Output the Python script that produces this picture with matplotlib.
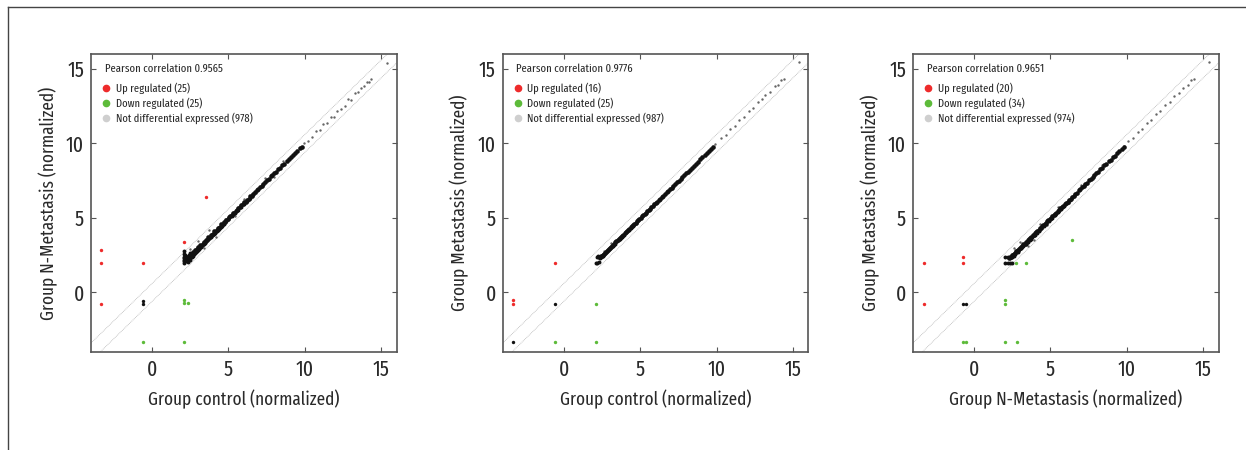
import matplotlib
matplotlib.use("Agg")
import matplotlib.pyplot as plt
from matplotlib.lines import Line2D

plt.rcParams['font.family'] = ['Fira Sans Extra Condensed', 'DejaVu Sans']

# ---------------- data ----------------
x_labels = ["Group control (normalized)", "Group control (normalized)", "Group N-Metastasis (normalized)"]
y_labels = ["Group N-Metastasis (normalized)", "Group Metastasis (normalized)", "Group Metastasis (normalized)"]
pearson = ["0.9565", "0.9776", "0.9651"]
up_counts = [25, 16, 20]
down_counts = [25, 25, 34]
not_counts = [978, 987, 974]
ticks = [0, 5, 10, 15]

# dense core x positions (shared), y per panel
core_x = [2.30, 2.36, 2.42, 2.48, 2.55, 2.62, 2.68, 2.75, 2.82, 2.88,
          2.95, 3.02, 3.08, 3.15, 3.22, 3.30, 3.37, 3.44, 3.52, 3.60,
          3.67, 3.75, 3.83, 3.90, 3.98, 4.06, 4.14, 4.22, 4.30, 4.38,
          4.46, 4.54, 4.62, 4.70, 4.78, 4.86, 4.95, 5.03, 5.12, 5.20,
          5.29, 5.38, 5.47, 5.56, 5.65, 5.74, 5.83, 5.93, 6.02, 6.12,
          6.22, 6.32, 6.42, 6.52, 6.62, 6.73, 6.84, 6.95, 7.06, 7.17,
          7.28, 7.40, 7.52, 7.64, 7.76, 7.88, 8.00, 8.13, 8.26, 8.39,
          8.52, 8.66, 8.80, 8.94, 9.08, 9.22, 9.36, 9.50, 9.65, 9.80]
core_y1 = [2.38, 2.30, 2.45, 2.40, 2.52, 2.58, 2.70, 2.66, 2.85, 2.80,
           2.90, 3.05, 3.00, 3.18, 3.12, 3.26, 3.40, 3.35, 3.50, 3.55,
           3.70, 3.68, 3.85, 3.86, 3.95, 4.10, 4.08, 4.20, 4.33, 4.34,
           4.42, 4.56, 4.58, 4.72, 4.75, 4.88, 4.92, 5.05, 5.10, 5.22,
           5.30, 5.36, 5.48, 5.55, 5.67, 5.72, 5.84, 5.92, 6.04, 6.10,
           6.23, 6.30, 6.44, 6.50, 6.63, 6.72, 6.86, 6.93, 7.08, 7.15,
           7.30, 7.38, 7.53, 7.62, 7.78, 7.86, 8.02, 8.10, 8.27, 8.37,
           8.55, 8.64, 8.82, 8.92, 9.10, 9.20, 9.38, 9.48, 9.66, 9.78]
core_y2 = [2.36, 2.38, 2.42, 2.46, 2.52, 2.60, 2.66, 2.72, 2.80, 2.86,
           2.93, 3.00, 3.06, 3.13, 3.20, 3.28, 3.35, 3.42, 3.50, 3.58,
           3.65, 3.73, 3.81, 3.88, 3.96, 4.04, 4.12, 4.20, 4.28, 4.36,
           4.44, 4.52, 4.60, 4.68, 4.76, 4.84, 4.93, 5.01, 5.10, 5.18,
           5.27, 5.36, 5.45, 5.54, 5.63, 5.72, 5.81, 5.91, 6.00, 6.10,
           6.20, 6.30, 6.40, 6.50, 6.60, 6.71, 6.82, 6.93, 7.04, 7.15,
           7.26, 7.38, 7.50, 7.62, 7.74, 7.86, 7.98, 8.11, 8.24, 8.37,
           8.50, 8.64, 8.78, 8.92, 9.06, 9.20, 9.34, 9.48, 9.63, 9.78]
core_y3 = [2.34, 2.40, 2.38, 2.48, 2.50, 2.60, 2.64, 2.76, 2.78, 2.86,
           2.92, 3.00, 3.08, 3.10, 3.22, 3.26, 3.36, 3.40, 3.52, 3.56,
           3.66, 3.72, 3.84, 3.86, 3.96, 4.04, 4.14, 4.18, 4.30, 4.35,
           4.45, 4.50, 4.62, 4.67, 4.78, 4.83, 4.95, 5.00, 5.12, 5.17,
           5.29, 5.35, 5.47, 5.53, 5.65, 5.71, 5.83, 5.90, 6.02, 6.09,
           6.22, 6.29, 6.42, 6.49, 6.62, 6.70, 6.84, 6.92, 7.06, 7.14,
           7.28, 7.37, 7.52, 7.60, 7.76, 7.85, 8.00, 8.10, 8.26, 8.36,
           8.52, 8.62, 8.80, 8.90, 9.08, 9.18, 9.36, 9.46, 9.65, 9.76]

# extra dark points (low-end smear and band thickness)
extra_x1 = [2.10, 2.10, 2.12, 2.10, 2.10, 2.14, 2.10, 2.10, 2.20, 2.28, 2.35, 2.45,
            2.55, 2.40, 2.65, 2.75, 2.50, 2.85, 2.95, 3.05, 3.15, 3.25, 3.35, 3.45,
            3.55, 3.65, 3.80, 3.95, 4.10, 4.25, 4.40, 4.55, 4.70, 4.85, 5.00, 5.20,
            5.40, 5.60, 5.80, 6.00, 6.20, 6.40, 6.60, 2.60, 2.80, 3.00, 3.20, 3.40,
            3.60, 3.85, 4.05, 4.30, 4.50]
extra_y1 = [2.00, 2.08, 2.18, 2.28, 2.38, 2.48, 2.60, 2.75, 2.12, 2.22, 2.05, 2.20,
            2.35, 2.48, 2.45, 2.58, 2.62, 2.70, 2.80, 2.92, 3.05, 3.15, 3.22, 3.30,
            3.45, 3.58, 3.72, 3.85, 4.00, 4.15, 4.28, 4.48, 4.60, 4.80, 4.92, 5.12,
            5.32, 5.52, 5.75, 5.95, 6.14, 6.36, 6.58, 2.40, 2.62, 2.85, 3.02, 3.28,
            3.50, 3.72, 3.95, 4.20, 4.40]
extra_x2 = [2.10, 2.20, 2.30, 2.15, 2.25, 2.35, 2.45, 2.55, 2.65, 2.75, 2.90, 3.05,
            3.20, 3.35, 3.50, 3.65, 3.80, 3.95, 4.10, 4.25, 4.40, 4.55, 4.70]
extra_y2 = [2.00, 2.00, 2.05, 2.40, 2.42, 2.33, 2.40, 2.47, 2.58, 2.68, 2.82, 2.98,
            3.13, 3.28, 3.43, 3.58, 3.73, 3.88, 4.03, 4.18, 4.33, 4.48, 4.63]
extra_x3 = [2.00, 2.20, 2.35, 2.50, 2.00, 2.20, 2.35, 2.45, 2.55, 2.65, 2.75, 2.90,
            3.05, 3.20, 3.35, 3.50, 3.65, 3.80, 3.95, 4.10, 4.25, 4.40, 4.55, 4.70,
            4.90, 5.10, 5.30, 5.50, 5.70, 5.90, 6.10, 6.30, 2.60, 2.85, 3.10, 3.40,
            3.70, 4.00]
extra_y3 = [2.00, 2.00, 2.00, 2.00, 2.38, 2.38, 2.30, 2.40, 2.48, 2.55, 2.68, 2.80,
            2.95, 3.10, 3.25, 3.40, 3.55, 3.72, 3.86, 4.00, 4.15, 4.32, 4.46, 4.62,
            4.80, 5.02, 5.20, 5.42, 5.60, 5.82, 6.00, 6.22, 2.45, 2.70, 2.98, 3.28,
            3.58, 3.88]

# sparse grey points (upper part of diagonal and loose ones)
sparse_x1 = [2.50, 3.00, 3.40, 3.75, 4.20, 4.80, 5.40, 6.00, 6.80, 7.40, 8.00, 8.60,
             9.95, 10.20, 10.50, 10.75, 11.00, 11.20, 11.45, 11.70, 11.90, 12.10,
             12.35, 12.60, 12.85, 13.05, 13.30, 13.50, 13.70, 13.90, 14.05, 14.20,
             14.35, 15.35]
sparse_y1 = [2.90, 3.45, 3.00, 4.20, 3.75, 4.95, 5.10, 6.30, 6.65, 7.65, 7.75, 8.80,
             10.05, 10.15, 10.40, 10.85, 10.90, 11.30, 11.40, 11.80, 11.75, 12.20,
             12.30, 12.50, 12.95, 12.90, 13.35, 13.45, 13.75, 13.85, 14.10, 14.15,
             14.30, 15.40]
sparse_x2 = [2.60, 3.10, 8.20, 9.90, 10.30, 10.60, 10.90, 11.20, 11.50, 11.80, 12.10,
             12.40, 12.70, 13.00, 13.20, 13.50, 13.80, 14.00, 14.20, 14.40, 15.40]
sparse_y2 = [2.75, 3.30, 8.05, 9.95, 10.35, 10.55, 10.95, 11.15, 11.55, 11.75, 12.15,
             12.35, 12.75, 12.95, 13.25, 13.45, 13.85, 13.95, 14.25, 14.35, 15.45]
sparse_x3 = [2.60, 3.00, 3.50, 3.90, 4.30, 4.80, 5.50, 6.20, 7.00, 7.80, 8.40, 9.80,
             10.10, 10.40, 10.70, 11.00, 11.30, 11.60, 11.90, 12.20, 12.50, 12.80,
             13.10, 13.40, 13.70, 14.00, 14.20, 14.40, 15.40]
sparse_y3 = [2.95, 3.40, 3.10, 3.55, 4.60, 4.55, 5.75, 6.00, 7.20, 7.60, 8.55, 9.85,
             10.15, 10.35, 10.75, 10.95, 11.35, 11.55, 11.95, 12.15, 12.55, 12.75,
             13.15, 13.35, 13.75, 13.95, 14.25, 14.35, 15.45]

# not-differential low outliers (black)
low_x1 = [-0.60, -0.60]
low_y1 = [-0.55, -0.75]
low_x2 = [-0.60, -3.35]
low_y2 = [-0.78, -3.30]
low_x3 = [-0.70, -0.52]
low_y3 = [-0.78, -0.78]

# up regulated (red)
up_x1 = [-3.35, -3.35, -3.35, -0.60, 2.12, 3.50]
up_y1 = [2.85, 2.00, -0.75, 2.00, 3.40, 6.42]
up_x2 = [-3.30, -3.30, -0.60]
up_y2 = [-0.52, -0.78, 2.00]
up_x3 = [-3.25, -3.25, -0.70, -0.70]
up_y3 = [2.00, -0.78, 2.40, 2.00]

# down regulated (green)
down_x1 = [2.12, 2.12, 2.38, -0.60, 2.12]
down_y1 = [-0.54, -0.74, -0.74, -3.30, -3.30]
down_x2 = [2.12, -0.60, 2.12]
down_y2 = [-0.78, -3.30, -3.30]
down_x3 = [-0.70, -0.52, 2.02, 2.83, 2.02, 2.02, 2.74, 3.39, 6.41]
down_y3 = [-3.30, -3.30, -3.30, -3.30, -0.50, -0.78, 2.00, 2.00, 3.54]

panels = [
    dict(core_y=core_y1, ex=extra_x1, ey=extra_y1, sx=sparse_x1, sy=sparse_y1,
         lx=low_x1, ly=low_y1, ux=up_x1, uy=up_y1, dx=down_x1, dy=down_y1),
    dict(core_y=core_y2, ex=extra_x2, ey=extra_y2, sx=sparse_x2, sy=sparse_y2,
         lx=low_x2, ly=low_y2, ux=up_x2, uy=up_y2, dx=down_x2, dy=down_y2),
    dict(core_y=core_y3, ex=extra_x3, ey=extra_y3, sx=sparse_x3, sy=sparse_y3,
         lx=low_x3, ly=low_y3, ux=up_x3, uy=up_y3, dx=down_x3, dy=down_y3),
]

RED = '#ee2b2b'
GREEN = '#5dbb3a'
GREY = '#cfcfcf'
TXT = '#2a2a2a'

W, H = 1246, 450
fig = plt.figure(figsize=(W / 100, H / 100), dpi=100)

# figure frame (top and left border)
fig.add_artist(Line2D([8 / W, 1.0], [1 - 7 / H, 1 - 7 / H], transform=fig.transFigure,
                      color='#444444', lw=1.0))
fig.add_artist(Line2D([8 / W, 8 / W], [0.0, 1 - 7 / H], transform=fig.transFigure,
                      color='#444444', lw=1.0))

lefts = [91, 502.7, 913]
ax_w = 305.5
top_px, bot_px = 54, 352

for i, p in enumerate(panels):
    ax = fig.add_axes([lefts[i] / W, 1 - bot_px / H, ax_w / W, (bot_px - top_px) / H])
    ax.set_xlim(-4, 16)
    ax.set_ylim(-4, 16)
    # fold-change guide lines
    ax.plot([-4, 16], [-4 + 0.6, 16 + 0.6], ls=(0, (1, 1)), color='#b5b5b5', lw=0.6)
    ax.plot([-4, 16], [-4 - 0.6, 16 - 0.6], ls=(0, (1, 1)), color='#b5b5b5', lw=0.6)

    ax.scatter(p['sx'], p['sy'], s=3, color='#666666', linewidths=0, zorder=3)
    ax.scatter(core_x, p['core_y'], s=11, color='#111111', linewidths=0, zorder=4)
    ax.scatter(p['ex'], p['ey'], s=8, color='#111111', linewidths=0, zorder=4)
    ax.scatter(p['lx'], p['ly'], s=6, color='#111111', linewidths=0, zorder=4)
    ax.scatter(p['ux'], p['uy'], s=6, color=RED, linewidths=0, zorder=5)
    ax.scatter(p['dx'], p['dy'], s=6, color=GREEN, linewidths=0, zorder=5)

    ax.set_xticks(ticks)
    ax.set_yticks(ticks)
    ax.tick_params(direction='in', length=3.5, width=0.8, top=True, right=True,
                   labelsize=15.5, colors='#555555', labelcolor=TXT, pad=5)
    for s in ax.spines.values():
        s.set_color('#555555')
        s.set_linewidth(1.2)
    ax.set_xlabel(x_labels[i], fontsize=13.5, color=TXT, labelpad=7)
    ax.set_ylabel(y_labels[i], fontsize=13.5, color=TXT, labelpad=6)

    ax.text(0.045, 0.95, "Pearson correlation " + pearson[i], transform=ax.transAxes,
            fontsize=8.3, color=TXT, va='center', ha='left')
    handles = [
        Line2D([], [], ls='none', marker='o', ms=4.5, color=RED, label=f"Up regulated ({up_counts[i]})"),
        Line2D([], [], ls='none', marker='o', ms=4.5, color=GREEN, label=f"Down regulated ({down_counts[i]})"),
        Line2D([], [], ls='none', marker='o', ms=4.5, color=GREY, label=f"Not differential expressed ({not_counts[i]})"),
    ]
    leg = ax.legend(handles=handles, loc='upper left', bbox_to_anchor=(0.038, 0.905),
                    frameon=False, fontsize=8.2, handlelength=0.6, handletextpad=0.55,
                    labelspacing=0.3, borderaxespad=0, borderpad=0)
    for t in leg.get_texts():
        t.set_color(TXT)

fig.savefig("out.png", dpi=100)
